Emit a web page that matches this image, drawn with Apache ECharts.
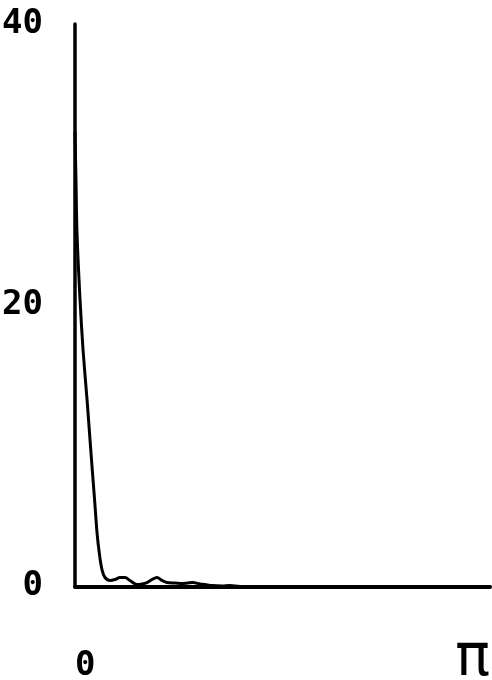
<!DOCTYPE html>
<html>
<head>
<meta charset="utf-8">
<script src="https://cdn.jsdelivr.net/npm/echarts@6/dist/echarts.min.js"></script>
<style>html,body{margin:0;padding:0;background:#fff;}#c{width:492px;height:680px;}</style>
</head>
<body>
<div id="c"></div>
<script>
// frequency (radians, 0..pi) and spectrum magnitude
const omega = [0, 0.008, 0.015, 0.038, 0.061, 0.091, 0.110, 0.129, 0.148, 0.167, 0.185, 0.204, 0.227, 0.265, 0.303, 0.341, 0.379, 0.416, 0.469, 0.507, 0.545, 0.583, 0.621, 0.658, 0.696, 0.757, 0.810, 0.855, 0.893, 0.946, 0.984, 1.037, 1.113, 1.173, 1.25, 1.6, 2.0, 2.5, 3.14159];
const magnitude = [32.3, 28.6, 25.2, 20.4, 16.8, 13.3, 10.9, 8.5, 6.2, 3.8, 2.3, 1.2, 0.64, 0.43, 0.5, 0.64, 0.64, 0.43, 0.14, 0.18, 0.28, 0.5, 0.64, 0.43, 0.28, 0.25, 0.21, 0.25, 0.28, 0.18, 0.14, 0.07, 0.04, 0.07, 0.0, 0.0, 0.0, 0.0, 0.0];
const yTicks = [0, 20, 40];
const xTickLabels = ['0', 'π'];

const font = "'DejaVu Sans Mono', monospace";
const chart = echarts.init(document.getElementById('c'));
chart.setOption({
  animation: false,
  backgroundColor: '#fff',
  grid: { left: 75, top: 24, right: 2, bottom: 93.5, containLabel: false, outerBoundsMode: 'none' },
  xAxis: {
    type: 'value', min: 0, max: Math.PI, interval: Math.PI,
    axisLine: { show: true, lineStyle: { color: '#000', width: 4 } },
    axisTick: { show: false }, splitLine: { show: false },
    axisLabel: {
      margin: 63, color: '#000', fontSize: 34, fontWeight: 'bold', fontFamily: font,
      alignMinLabel: 'left', alignMaxLabel: 'right',
      formatter: function (v) { return v === 0 ? xTickLabels[0] : '{p|' + xTickLabels[1] + '}'; },
      rich: { p: { fontSize: 58, lineHeight: 20, fontWeight: 'normal', fontFamily: font, color: '#000' } }
    }
  },
  yAxis: {
    type: 'value', min: yTicks[0], max: yTicks[2], interval: 20,
    axisLine: { show: true, lineStyle: { color: '#000', width: 3.5 } },
    axisTick: { show: false }, splitLine: { show: false },
    axisLabel: { margin: 32, color: '#000', fontSize: 34, fontWeight: 'bold', fontFamily: font,
      formatter: function (v) { return yTicks.indexOf(v) >= 0 ? String(v) : ''; } }
  },
  series: [{
    type: 'line', smooth: 0.3, symbol: 'none',
    lineStyle: { color: '#000', width: 3, cap: 'round', join: 'round' },
    data: omega.map((w, i) => [w, magnitude[i]])
  }]
});
</script>
</body>
</html>
